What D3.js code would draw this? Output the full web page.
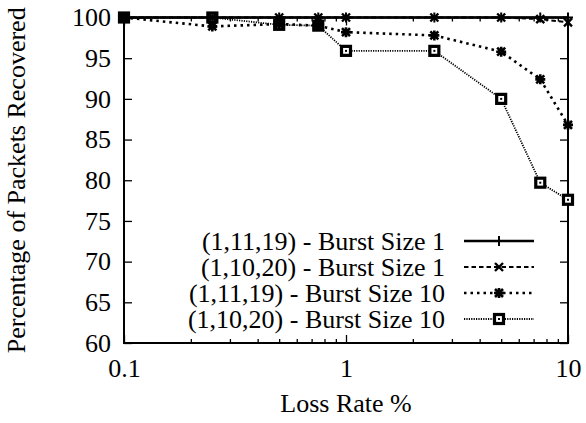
<!DOCTYPE html>
<html>
<head>
<script src="https://cdnjs.cloudflare.com/ajax/libs/d3/7.8.5/d3.min.js"></script>
<style>
  body { margin: 0; background: #fff; }
  svg { font-family: 'Liberation Serif', 'Times New Roman', serif; }
  .axis path { display: none; }
  .axis line { stroke: #000; stroke-width: 1.3px; }
  .axis text { font-size: 26px; fill: #000; font-family: 'Liberation Serif', serif; }
</style>
</head>
<body>
<script>
// data
var lossRates = [0.1, 0.25, 0.5, 0.75, 1, 2.5, 5, 7.5, 10];
var s1_11_19_b1 = [100, 100, 100, 100, 100, 100, 100, 100, 100];
var s1_10_20_b1 = [100, 100, 100, 100, 100, 100, 100, 99.8, 99.4];
var s1_11_19_b10 = [100, 98.9, 99.2, 99.0, 98.2, 97.8, 95.8, 92.4, 86.8];
var s1_10_20_b10 = [100, 100, 99.1, 99.0, 95.9, 95.9, 90.0, 79.7, 77.6];
var seriesNames = ["(1,11,19) - Burst Size 1", "(1,10,20) - Burst Size 1",
                   "(1,11,19) - Burst Size 10", "(1,10,20) - Burst Size 10"];
var yTicks = [60, 65, 70, 75, 80, 85, 90, 95, 100];
var xTicks = [0.1, 1, 10];

var width = 586, height = 423;
var pLeft = 124, pRight = 568, pTop = 17.5, pBottom = 343;

var svg = d3.select("body").append("svg")
  .attr("width", width).attr("height", height);

var x = d3.scaleLog().domain([0.1, 10]).range([pLeft, pRight]);
var y = d3.scaleLinear().domain([60, 100]).range([pBottom, pTop]);

var minor = [];
[0.1, 1].forEach(function(d) { for (var k = 2; k <= 9; k++) minor.push(d * k); });

// minor x ticks, bottom and top
svg.append("g").attr("class", "axis").attr("transform", "translate(0," + pBottom + ")")
  .call(d3.axisBottom(x).tickValues(minor).tickSize(-4).tickFormat(""));
svg.append("g").attr("class", "axis").attr("transform", "translate(0," + pTop + ")")
  .call(d3.axisTop(x).tickValues(minor).tickSize(-4).tickFormat(""));

// major x ticks
svg.append("g").attr("class", "axis").attr("transform", "translate(0," + pBottom + ")")
  .call(d3.axisBottom(x).tickValues(xTicks).tickSize(-8).tickPadding(16).tickFormat(d3.format("")));
svg.append("g").attr("class", "axis").attr("transform", "translate(0," + pTop + ")")
  .call(d3.axisTop(x).tickValues(xTicks).tickSize(-8).tickFormat(""));

// y ticks, left and right
svg.append("g").attr("class", "axis").attr("transform", "translate(" + pLeft + ",0)")
  .call(d3.axisLeft(y).tickValues(yTicks).tickSize(-8).tickPadding(13));
svg.append("g").attr("class", "axis").attr("transform", "translate(" + pRight + ",0)")
  .call(d3.axisRight(y).tickValues(yTicks).tickSize(-8).tickFormat(""));

// frame
svg.append("rect")
  .attr("x", pLeft).attr("y", pTop)
  .attr("width", pRight - pLeft).attr("height", pBottom - pTop)
  .attr("fill", "none").attr("stroke", "#000").attr("stroke-width", 2);

// axis titles
svg.append("text")
  .attr("x", (pLeft + pRight) / 2).attr("y", 412)
  .attr("text-anchor", "middle").attr("font-size", 26)
  .text("Loss Rate %");
svg.append("text")
  .attr("transform", "translate(25," + ((pTop + pBottom) / 2) + ") rotate(-90)")
  .attr("text-anchor", "middle").attr("font-size", 26)
  .text("Percentage of Packets Recovered");

var series = [
  { name: seriesNames[0], values: s1_11_19_b1, dash: null, width: 2.4, mark: "plus" },
  { name: seriesNames[1], values: s1_10_20_b1, dash: "4.5,3", width: 2, mark: "cross" },
  { name: seriesNames[2], values: s1_11_19_b10, dash: "2.5,4", width: 2.6, mark: "star" },
  { name: seriesNames[3], values: s1_10_20_b10, dash: "1.2,1.2", width: 1.8, mark: "square" }
];

function drawMark(g, type, cx, cy) {
  var r = 5;
  if (type === "plus") {
    g.append("path").attr("d", "M" + (cx - r) + "," + cy + "h" + 2 * r + "M" + cx + "," + (cy - r) + "v" + 2 * r)
      .attr("stroke", "#000").attr("stroke-width", 2);
  } else if (type === "cross") {
    g.append("path").attr("d", "M" + (cx - 4) + "," + (cy - 4) + "l8,8M" + (cx - 4) + "," + (cy + 4) + "l8,-8")
      .attr("stroke", "#000").attr("stroke-width", 2.4);
  } else if (type === "star") {
    g.append("path").attr("d", "M" + (cx - r) + "," + cy + "h" + 2 * r + "M" + cx + "," + (cy - r) + "v" + 2 * r +
        "M" + (cx - 4) + "," + (cy - 4) + "l8,8M" + (cx - 4) + "," + (cy + 4) + "l8,-8")
      .attr("stroke", "#000").attr("stroke-width", 2.6);
  } else {
    g.append("rect").attr("x", cx - 4.5).attr("y", cy - 4.5).attr("width", 9).attr("height", 9)
      .attr("fill", "#fff").attr("stroke", "#000").attr("stroke-width", 3.2);
    g.append("rect").attr("x", cx - 1).attr("y", cy - 1).attr("width", 2).attr("height", 2).attr("fill", "#000");
  }
}

var line = d3.line().x(function(d) { return x(d[0]); }).y(function(d) { return y(d[1]); });

// draw later series first so the solid line ends up on top
series.slice().reverse().forEach(function(s) {
  var pts = lossRates.map(function(r, i) { return [r, s.values[i]]; });
  var g = svg.append("g");
  g.append("path").datum(pts).attr("d", line)
    .attr("fill", "none").attr("stroke", "#000")
    .attr("stroke-width", s.width)
    .attr("stroke-dasharray", s.dash);
  pts.forEach(function(p) { drawMark(g, s.mark, x(p[0]), y(p[1])); });
});

// legend
var legY = [241, 267, 293, 319];
series.forEach(function(s, i) {
  var g = svg.append("g");
  g.append("text").attr("x", 445).attr("y", legY[i] + 8.5)
    .attr("text-anchor", "end").attr("font-size", 26).text(s.name);
  g.append("line").attr("x1", 464).attr("x2", 534).attr("y1", legY[i]).attr("y2", legY[i])
    .attr("stroke", "#000").attr("stroke-width", s.width).attr("stroke-dasharray", s.dash);
  drawMark(g, s.mark, 499, legY[i]);
});
</script>
</body>
</html>
